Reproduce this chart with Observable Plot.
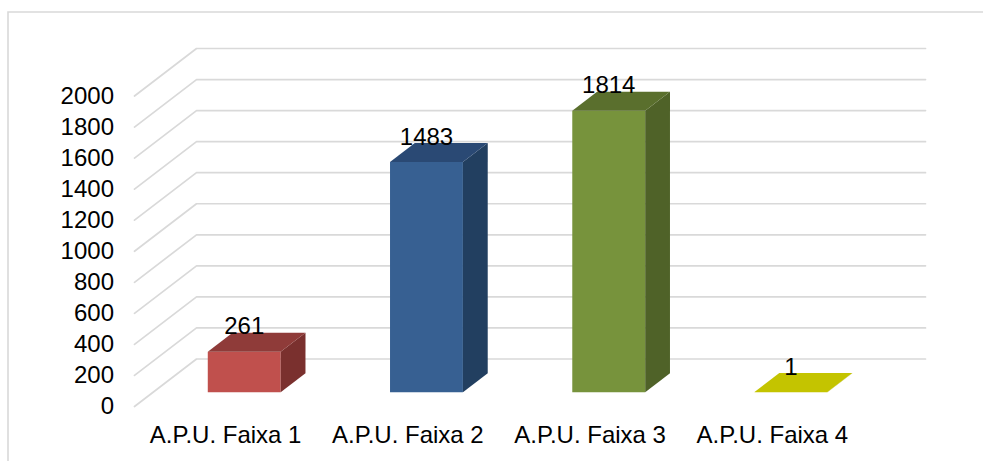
<!DOCTYPE html>
<html>
<head>
<meta charset="utf-8">
<style>
html,body{margin:0;padding:0;background:#fff;}
#chart{position:relative;width:983px;height:461px;overflow:hidden;}
svg{display:block;}
</style>
<script src="https://cdn.jsdelivr.net/npm/d3@7"></script>
<script src="https://cdn.jsdelivr.net/npm/@observablehq/plot@0.6"></script>
</head>
<body>
<div id="chart"></div>
<script>
const categories = ["A.P.U. Faixa 1", "A.P.U. Faixa 2", "A.P.U. Faixa 3", "A.P.U. Faixa 4"];
const values = [261, 1483, 1814, 1];
const yTicks = [0, 200, 400, 600, 800, 1000, 1200, 1400, 1600, 1800, 2000];
const frontColors = ["#C0504D", "#376092", "#77933C", "#C4C400"];
const topColors = ["#8F3B39", "#2A4974", "#5A6F2D", "#C4C400"];
const sideColors = ["#7A302E", "#223F60", "#4F6228", "#A0A000"];

// Oblique projection of the 3D chart, in data units
const depthX = 62 / 182.25;        // category units for the full floor depth
const depthY = 47.5 * 2000 / 310.5; // value units for the full floor depth
const barWidth = 0.4, d0 = 0.3, d1 = 0.7;
const px = (c, d) => c + d * depthX;
const py = (v, d) => v + d * depthY;

// Gridlines: floor/wall edge then back wall
const grid = yTicks.flatMap(v => [
  {k: v, x: px(0, 0), y: py(v, 0)},
  {k: v, x: px(0, 1), y: py(v, 1)},
  {k: v, x: px(categories.length, 1), y: py(v, 1)}
]);

// Bar faces
const faces = values.flatMap((v, i) => {
  const l = i + 0.5 - barWidth / 2, r = i + 0.5 + barWidth / 2;
  const poly = (id, color, pts) => pts.map(([c, val, d]) => ({id: `${i}-${id}`, color, x: px(c, d), y: py(val, d)}));
  return [
    ...poly("front", frontColors[i], [[l, 0, d0], [r, 0, d0], [r, v, d0], [l, v, d0]]),
    ...poly("side", sideColors[i], [[r, 0, d0], [r, 0, d1], [r, v, d1], [r, v, d0]]),
    ...poly("top", topColors[i], [[l, v, d0], [r, v, d0], [r, v, d1], [l, v, d1]])
  ];
});

const labels = values.map((v, i) => ({v, x: px(i + 0.5, d0), y: py(v, d0)}));

// Chart-area border: only the top and left edges show in the picture
const border = () => d3.create("svg:path")
  .attr("d", "M983,12H8V461")
  .attr("fill", "none")
  .attr("stroke", "#D9D9D9")
  .attr("stroke-width", 1.6)
  .node();

const fs = 24;
const plot = Plot.plot({
  width: 983,
  height: 461,
  marginLeft: 134,
  marginRight: 120,
  marginTop: 95.5,
  marginBottom: 55,
  style: {fontFamily: "'Liberation Sans', Arial, sans-serif", fontSize: fs + "px", color: "#000", background: "#fff", overflow: "visible"},
  x: {domain: [0, categories.length], axis: null},
  y: {domain: [0, 2000], axis: null},
  marks: [
    border,
    Plot.line(grid, {x: "x", y: "y", z: "k", stroke: "#D9D9D9", strokeWidth: 1.7, curve: "linear"}),
    Plot.line(faces, {x: "x", y: "y", z: "id", fill: "color", stroke: "none", curve: "linear"}),
    Plot.axisY({ticks: yTicks, tickSize: 0, tickPadding: 20.5, label: null, fontSize: fs, tickFormat: d => String(d)}),
    Plot.axisX({ticks: categories.map((_, i) => i + 0.5), tickSize: 0, tickPadding: 19.5, label: null, fontSize: fs, tickFormat: d => categories[Math.floor(d)]}),
    Plot.text(labels, {x: "x", y: "y", text: d => String(d.v), dy: -25, fontSize: fs, fill: "#000"})
  ]
});
document.getElementById("chart").appendChild(plot);
</script>
</body>
</html>
